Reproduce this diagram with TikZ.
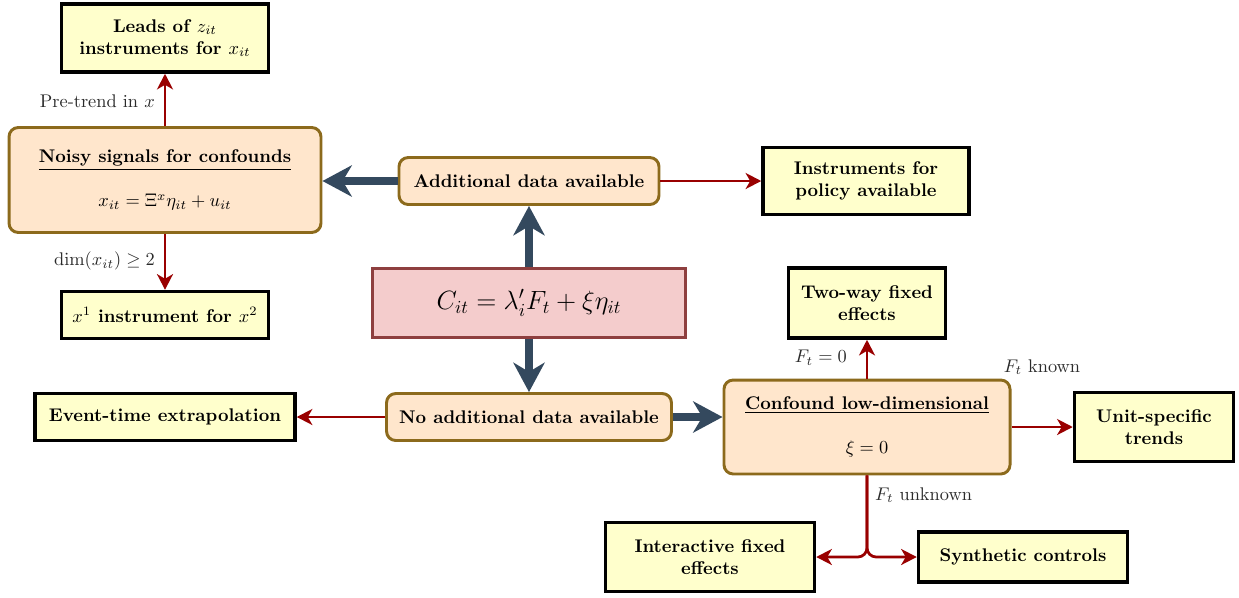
\documentclass[tikz,border=0pt]{standalone}
\usepackage{amsmath,amssymb}
\usetikzlibrary{arrows.meta,calc}
\definecolor{boxyellow}{HTML}{FFFFCC}
\definecolor{boxpeach}{HTML}{FFE6CC}
\definecolor{boxgold}{HTML}{8C6A1C}
\definecolor{boxpink}{HTML}{F4CCCC}
\definecolor{boxpinkborder}{HTML}{8E3F3F}
\definecolor{navyarrow}{HTML}{34495E}
\definecolor{redarrow}{HTML}{990000}
\definecolor{labelgray}{HTML}{2A2A2A}
\tikzset{
  leaf/.style={draw=black, line width=1.9pt, fill=boxyellow, align=center, font=\bfseries, inner sep=2pt},
  decision/.style={draw=boxgold, line width=1.6pt, fill=boxpeach, rounded corners=5pt, align=center, font=\bfseries, inner sep=2pt},
  central/.style={draw=boxpinkborder, line width=1.5pt, fill=boxpink, align=center, font=\Large, inner sep=2pt},
  bigarrow/.style={draw=navyarrow, line width=4pt, -{Stealth[length=16pt,width=17pt,inset=5pt]}},
  smallarrow/.style={draw=redarrow, line width=1.5pt, -{Stealth[length=8.5pt,width=8.7pt,inset=2.5pt]}},
  lbl/.style={text=labelgray, inner sep=1pt}
}
\begin{document}
\begin{tikzpicture}[x=0.545pt,y=-0.545pt]
\useasboundingbox (0,0) rectangle (1239,597);
% nodes
\node[central, minimum width=170.6pt, minimum height=37.6pt] (C) at (529,303) {$C_{it} = \lambda_i' F_t + \xi \eta_{it}$};
\node[decision, minimum width=141.7pt, minimum height=25.6pt] (add) at (529,181) {Additional data available};
\node[decision, minimum width=155.3pt, minimum height=25.6pt] (noadd) at (529,417) {No additional data available};
\node[decision, minimum width=170pt, minimum height=57.2pt] (noisy) at (165,180) {\underline{Noisy signals for confounds}\\[12pt]\mdseries $x_{it} = \Xi^x \eta_{it} + u_{it}$};
\node[decision, minimum width=155.9pt, minimum height=51.2pt] (conf) at (867,427) {\underline{Confound low-dimensional}\\[12pt]\mdseries $\xi = 0$};
\node[leaf, minimum width=112.8pt, minimum height=37.1pt] (leads) at (165,38) {Leads of $z_{it}$\\instruments for $x_{it}$};
\node[leaf, minimum width=112.8pt, minimum height=25.6pt] (xone) at (165,315) {$x^1$ instrument for $x^2$};
\node[leaf, minimum width=112.3pt, minimum height=36.5pt] (instr) at (866,181) {Instruments for\\policy available};
\node[leaf, minimum width=141.7pt, minimum height=25.6pt] (event) at (165,417) {Event-time extrapolation};
\node[leaf, minimum width=85.6pt, minimum height=38.2pt] (twoway) at (867,303) {Two-way fixed\\effects};
\node[leaf, minimum width=86.7pt, minimum height=37.6pt] (unit) at (1154,427) {Unit-specific\\trends};
\node[leaf, minimum width=113.9pt, minimum height=37.6pt] (inter) at (710,557) {Interactive fixed\\effects};
\node[leaf, minimum width=113.9pt, minimum height=27.3pt] (synth) at (1023,557) {Synthetic controls};
% big arrows
\draw[bigarrow] (C.north) -- (add.south);
\draw[bigarrow] (C.south) -- (noadd.north);
\draw[bigarrow] (add.west) -- (add.west -| noisy.east);
\draw[bigarrow] (noadd.east) -- (noadd.east -| conf.west);
% red arrows
\draw[smallarrow] (noisy.north) -- (leads.south);
\draw[smallarrow] (noisy.south) -- (xone.north);
\draw[smallarrow] (add.east) -- (instr.west);
\draw[smallarrow] (noadd.west) -- (event.east);
\draw[smallarrow] (conf.north) -- (twoway.south);
\draw[smallarrow] (conf.east) -- (unit.west);
\draw[smallarrow, rounded corners=5pt] (conf.south) |- (inter.east);
\draw[smallarrow, rounded corners=5pt] (conf.south) |- (synth.west);
% labels
\node[lbl, anchor=east] (l1) at (157,101) {Pre-trend in $x$};
\node[lbl, anchor=east] (l2) at (157,261) {$\dim(x_{it}) \geq 2$};
\node[lbl, anchor=east] (l3) at (849,358) {$F_t = 0$};
\node[lbl] (l4) at (1042,367) {$F_t$ known};
\node[lbl, anchor=west] (l5) at (873,495) {$F_t$ unknown};
\end{tikzpicture}
\end{document}
